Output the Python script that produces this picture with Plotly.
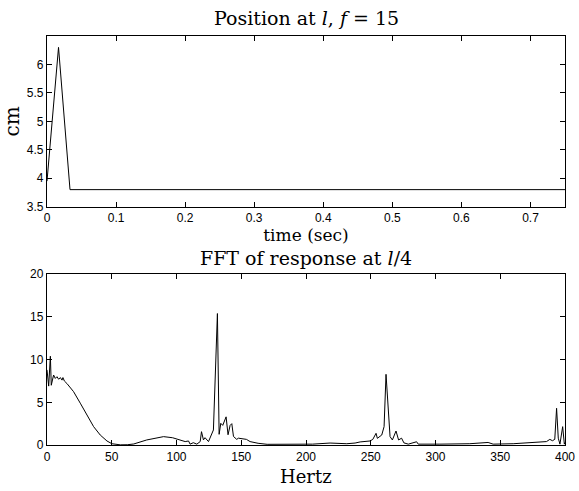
import plotly.graph_objects as go

# Top panel: position at l
time_sec = [0.0, 0.0167, 0.0333, 0.05, 0.1, 0.2, 0.3, 0.4, 0.5, 0.6, 0.7, 0.75]
position_cm = [3.95, 6.3, 3.8, 3.8, 3.8, 3.8, 3.8, 3.8, 3.8, 3.8, 3.8, 3.8]
top_yticks = [3.5, 4, 4.5, 5, 5.5, 6]

# Bottom panel: FFT of response at l/4
freq_hz = [0, 1.3, 2.6, 3.3, 5.1, 6.4, 7.7, 9.0, 10.3, 11.6, 12.3, 13.4,
           15.4, 20.5, 25.7, 30.9, 36.0, 41.1, 46.3, 50.1, 56.6, 62, 67, 77, 90,
           97, 102.8, 106.7, 109.3, 110.5, 113, 115.7, 118.3, 119.3, 120.8, 122,
           124.7, 128.5, 131.6, 132.9, 134.2, 135.7, 138.3, 139.8, 141.4, 142.7,
           144, 146.5, 147.8, 154, 156.8, 163, 170, 190, 205, 218.6, 231.5, 237.9,
           241.8, 249.5, 251.6, 254.1, 255.1, 258.5, 260.3, 261.8, 264.9, 266.7,
           269.5, 271.5, 273.8, 275.6, 279, 285.4, 286.7, 303.4, 326.5, 340.6,
           344.5, 360, 375.4, 385.7, 388.3, 390.3, 392.1, 393.5, 394.8, 396.1,
           398.2, 399.5, 400]
fft_mag = [8.8, 6.9, 10.4, 7.0, 8.2, 7.8, 8.0, 7.7, 7.9, 7.6, 7.9, 7.5,
           7.2, 6.25, 4.9, 3.5, 2.15, 1.17, 0.47, 0.15, 0.02, 0.03, 0.12, 0.59, 0.98,
           0.85, 0.6, 0.4, 0.47, 0.1, 0.27, 0.1, 0.4, 1.56, 0.6, 0.86,
           0.4, 1.76, 15.4, 1.25, 2.54, 2.3, 3.3, 1.2, 2.3, 2.5,
           1.0, 0.66, 0.8, 0.66, 0.4, 0.2, 0.08, 0.05, 0.1, 0.23, 0.15, 0.23,
           0.36, 0.47, 0.66, 1.37, 0.78, 1.17, 2.15, 8.28, 0.98, 0.59,
           1.64, 0.59, 0.8, 0.25, 0.1, 0.38, 0.1, 0.1, 0.15, 0.3,
           0.1, 0.15, 0.3, 0.4, 0.66, 0.5, 0.66, 4.3, 0.8, 0.1,
           2.15, 0.1, 0.3]

fig = go.Figure()
fig.add_trace(go.Scatter(x=time_sec, y=position_cm, mode="lines",
                         line=dict(color="black", width=1), xaxis="x", yaxis="y",
                         showlegend=False))
fig.add_trace(go.Scatter(x=freq_hz, y=fft_mag, mode="lines",
                         line=dict(color="black", width=1), xaxis="x2", yaxis="y2",
                         showlegend=False))

tickfont = dict(family="Liberation Sans, Arial", size=12, color="black")
serif = "DejaVu Serif"
common = dict(showgrid=False, zeroline=False, showline=True, linecolor="black",
              linewidth=1.4, mirror="ticks", ticks="inside", ticklen=5,
              tickcolor="black", tickwidth=1, tickfont=tickfont, automargin=False)

fig.update_layout(
    width=579, height=491,
    margin=dict(l=47, r=14, t=36, b=46),
    paper_bgcolor="white", plot_bgcolor="white",
    xaxis=dict(domain=[0, 1], anchor="y", range=[0, 0.75], dtick=0.1,
               title=dict(text="time (sec)", standoff=2,
                          font=dict(family=serif, size=17, color="black")),
               **common),
    yaxis=dict(domain=[0.5826, 1.0], anchor="x", range=[3.5, 6.5],
               tickvals=top_yticks,
               title=dict(text="cm", standoff=4,
                          font=dict(family=serif, size=20, color="black")),
               **common),
    xaxis2=dict(domain=[0, 1], anchor="y2", range=[0, 400], dtick=50,
                **common),
    yaxis2=dict(domain=[0, 0.4174], anchor="x2", range=[0, 20], dtick=5,
                **common),
    annotations=[
        dict(text="Position at <i>l</i>, <i>f</i> = 15", xref="paper", yref="paper",
             x=0.5, y=1.0, yshift=5, xanchor="center", yanchor="bottom", showarrow=False,
             font=dict(family=serif, size=19, color="black")),
        dict(text="FFT of response at <i>l</i>/4", xref="paper", yref="paper",
             x=0.5, y=0.4174, yshift=3, xanchor="center", yanchor="bottom", showarrow=False,
             font=dict(family=serif, size=19, color="black")),
        dict(text="Hertz", xref="paper", yref="paper",
             x=0.5, y=0, yshift=-31, xanchor="center", yanchor="middle", showarrow=False,
             font=dict(family=serif, size=18, color="black")),
    ],
)

fig.write_html("out.html")
